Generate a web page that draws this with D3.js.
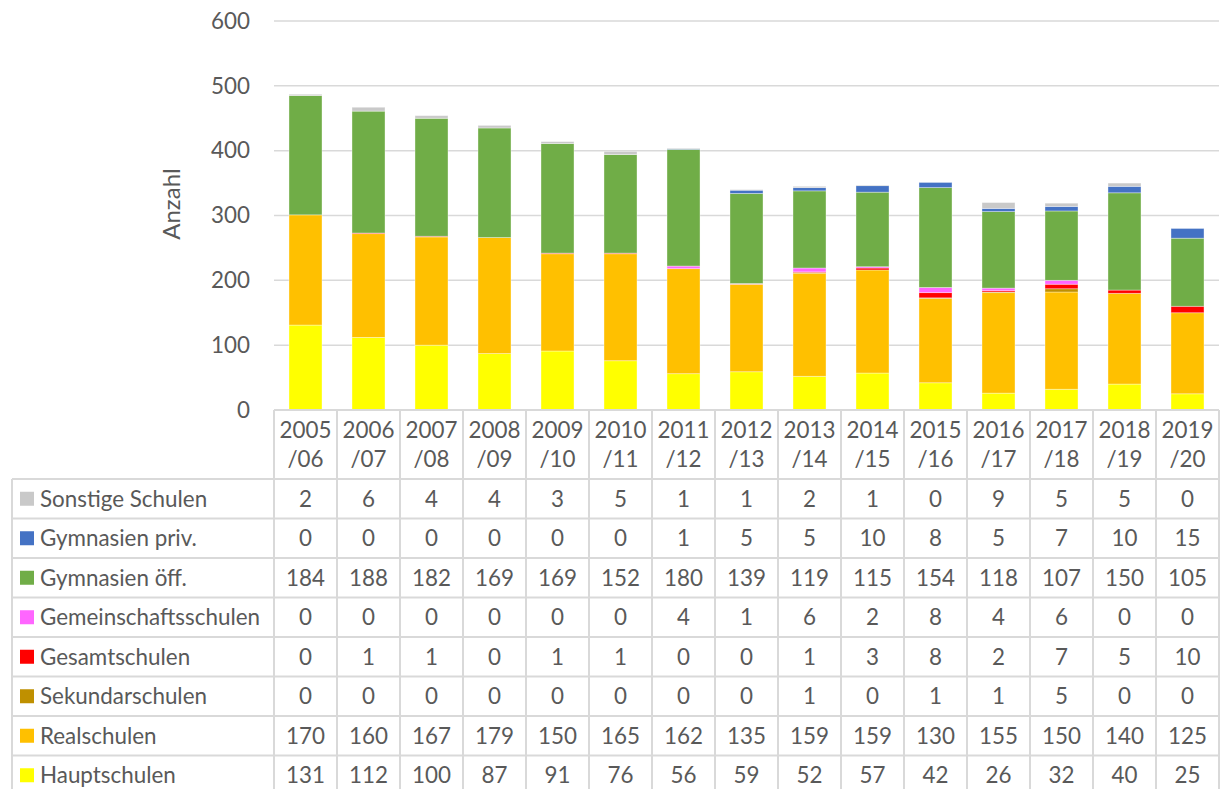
<!DOCTYPE html>
<html>
<head>
<meta charset="utf-8">
<script src="https://cdn.jsdelivr.net/npm/d3@7"></script>
<style>
  html, body { margin: 0; padding: 0; background: #fff; }
  svg text { font-family: Lato, "Open Sans", sans-serif; fill: #595959; }
</style>
</head>
<body>
<svg id="chart" width="1220" height="789"></svg>
<script>
// School years (two-line labels in the table header)
const years = ["2005/06","2006/07","2007/08","2008/09","2009/10","2010/11","2011/12",
               "2012/13","2013/14","2014/15","2015/16","2016/17","2017/18","2018/19","2019/20"];

// Series, bottom of the stack first
const hauptschulen        = [131,112,100,87,91,76,56,59,52,57,42,26,32,40,25];
const realschulen         = [170,160,167,179,150,165,162,135,159,159,130,155,150,140,125];
const sekundarschulen     = [0,0,0,0,0,0,0,0,1,0,1,1,5,0,0];
const gesamtschulen       = [0,1,1,0,1,1,0,0,1,3,8,2,7,5,10];
const gemeinschaftsschulen= [0,0,0,0,0,0,4,1,6,2,8,4,6,0,0];
const gymnasienOeff       = [184,188,182,169,169,152,180,139,119,115,154,118,107,150,105];
const gymnasienPriv       = [0,0,0,0,0,0,1,5,5,10,8,5,7,10,15];
const sonstigeSchulen     = [2,6,4,4,3,5,1,1,2,1,0,9,5,5,0];

const yTicks = [0,100,200,300,400,500,600];

const series = [
  { name: "Hauptschulen",         color: "#FFFF00", values: hauptschulen },
  { name: "Realschulen",          color: "#FFC000", values: realschulen },
  { name: "Sekundarschulen",      color: "#BF9000", values: sekundarschulen },
  { name: "Gesamtschulen",        color: "#FF0000", values: gesamtschulen },
  { name: "Gemeinschaftsschulen", color: "#FF66FF", values: gemeinschaftsschulen },
  { name: "Gymnasien öff.",       color: "#70AD47", values: gymnasienOeff },
  { name: "Gymnasien priv.",      color: "#4472C4", values: gymnasienPriv },
  { name: "Sonstige Schulen",     color: "#C9C9C9", values: sonstigeSchulen }
];

const svg = d3.select("#chart");
const plotLeft = 274, plotRight = 1219, plotTop = 21, plotBottom = 410;
const gridColor = "#d9d9d9";
const fontSize = "22.4px";

const x = d3.scaleBand().domain(years).range([plotLeft, plotRight])
  .paddingInner(0.476).paddingOuter(0.238);
const y = d3.scaleLinear().domain([0, 600]).range([plotBottom, plotTop]);
const step = x.step();
const colLeft = d => x(d) - step * x.paddingInner() / 2;

// Gridlines
svg.append("g").selectAll("line").data(yTicks).join("line")
  .attr("x1", plotLeft).attr("x2", plotRight)
  .attr("y1", d => y(d)).attr("y2", d => y(d))
  .attr("stroke", gridColor).attr("stroke-width", 1.5);

// Y axis labels
const yAxis = svg.append("g").attr("transform", `translate(${plotLeft - 24},0)`)
  .call(d3.axisLeft(y).tickValues(yTicks).tickSize(0).tickPadding(0));
yAxis.select(".domain").remove();
yAxis.selectAll("text").style("font-size", fontSize).attr("fill", "#595959")
  .style("font-family", "Lato, sans-serif");

// Axis title
svg.append("text")
  .attr("transform", "translate(180,204) rotate(-90)")
  .attr("text-anchor", "middle").style("font-size", "24px").text("Anzahl");

// Stacked bars
const rows = years.map((yr, i) => {
  const o = { year: yr };
  series.forEach(s => o[s.name] = s.values[i]);
  return o;
});
const stack = d3.stack().keys(series.map(s => s.name))(rows);
svg.append("g").selectAll("g").data(stack).join("g")
  .attr("fill", (d, i) => series[i].color)
  .selectAll("rect").data(d => d).join("rect")
  .attr("x", d => x(d.data.year))
  .attr("width", x.bandwidth())
  .attr("y", d => y(d[1]))
  .attr("height", d => y(d[0]) - y(d[1]))
  .attr("stroke", "rgba(255,255,255,0.45)").attr("stroke-width", 0.8);

// Baseline over the bars
svg.append("line").attr("x1", plotLeft).attr("x2", plotRight)
  .attr("y1", plotBottom).attr("y2", plotBottom)
  .attr("stroke", gridColor).attr("stroke-width", 2);

// Data table
const headerBottom = 479, rowH = 39.5, tableLeft = 12;
const tableRows = series.slice().reverse();
const tableBottom = headerBottom + rowH * tableRows.length;
const tbl = svg.append("g");

// Header: year labels on two lines
const hdr = tbl.selectAll("text.year").data(years).join("text")
  .attr("class", "year")
  .attr("x", d => colLeft(d) + step / 2)
  .attr("text-anchor", "middle").style("font-size", fontSize);
hdr.append("tspan").attr("x", d => colLeft(d) + step / 2).attr("y", 438).text(d => d.split("/")[0]);
hdr.append("tspan").attr("x", d => colLeft(d) + step / 2).attr("y", 467).text(d => "/" + d.split("/")[1]);

// Vertical lines
tbl.selectAll("line.v").data(years.concat(["end"])).join("line")
  .attr("x1", (d, i) => plotLeft + i * step).attr("x2", (d, i) => plotLeft + i * step)
  .attr("y1", plotBottom).attr("y2", tableBottom)
  .attr("stroke", gridColor).attr("stroke-width", 2);
tbl.append("line").attr("x1", tableLeft).attr("x2", tableLeft)
  .attr("y1", headerBottom).attr("y2", tableBottom)
  .attr("stroke", gridColor).attr("stroke-width", 2);

// Horizontal lines
tbl.selectAll("line.h").data(d3.range(tableRows.length + 1)).join("line")
  .attr("x1", tableLeft).attr("x2", plotRight)
  .attr("y1", i => headerBottom + i * rowH).attr("y2", i => headerBottom + i * rowH)
  .attr("stroke", gridColor).attr("stroke-width", 2);

// Row legend and values
const rg = tbl.selectAll("g.row").data(tableRows).join("g")
  .attr("transform", (d, i) => `translate(0,${headerBottom + i * rowH + rowH / 2})`);
rg.append("rect").attr("x", 20).attr("y", -7).attr("width", 14).attr("height", 14)
  .attr("fill", d => d.color);
rg.append("text").attr("x", 40).attr("dy", "0.35em").style("font-size", fontSize).text(d => d.name);
rg.selectAll("text.v").data(d => d.values.map((v, i) => ({ v, yr: years[i] }))).join("text")
  .attr("class", "v")
  .attr("x", d => colLeft(d.yr) + step / 2).attr("dy", "0.35em")
  .attr("text-anchor", "middle").style("font-size", fontSize).text(d => d.v);
</script>
</body>
</html>
